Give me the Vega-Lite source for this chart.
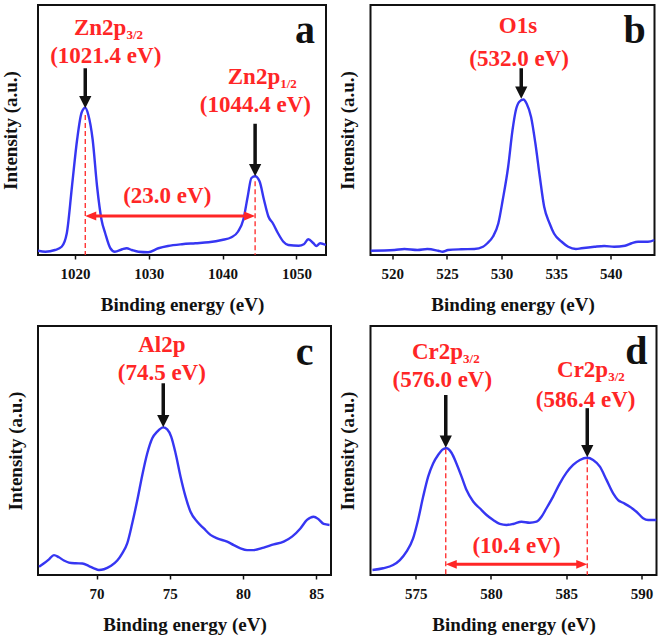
{
"$schema": "https://vega.github.io/schema/vega-lite/v6.json",
"padding": {"left": 0, "top": 4, "right": 3, "bottom": 0},
"background": "white",
"datasets": {
"curves": [
{"p":"a","E":1015.0,"I":1.7},{"p":"a","E":1016.0,"I":1.3},{"p":"a","E":1017.3,"I":2.0},{"p":"a","E":1018.2,"I":3.3},{"p":"a","E":1018.9,"I":8.7},{"p":"a","E":1019.6,"I":27.4},{"p":"a","E":1020.3,"I":46.2},{"p":"a","E":1020.9,"I":56.9},{"p":"a","E":1021.4,"I":58.9},{"p":"a","E":1021.8,"I":56.2},{"p":"a","E":1022.4,"I":46.2},{"p":"a","E":1023.0,"I":27.4},{"p":"a","E":1023.6,"I":14.1},{"p":"a","E":1024.1,"I":8.7},{"p":"a","E":1024.8,"I":2.7},{"p":"a","E":1025.4,"I":1.3},{"p":"a","E":1026.4,"I":2.3},{"p":"a","E":1027.0,"I":2.7},{"p":"a","E":1027.7,"I":2.0},{"p":"a","E":1028.6,"I":1.3},{"p":"a","E":1029.9,"I":1.1},{"p":"a","E":1031.3,"I":2.7},{"p":"a","E":1032.6,"I":3.6},{"p":"a","E":1034.5,"I":4.3},{"p":"a","E":1036.3,"I":4.7},{"p":"a","E":1038.1,"I":5.1},{"p":"a","E":1039.9,"I":6.0},{"p":"a","E":1041.2,"I":7.1},{"p":"a","E":1042.1,"I":9.4},{"p":"a","E":1042.8,"I":14.1},{"p":"a","E":1043.4,"I":23.4},{"p":"a","E":1043.9,"I":30.8},{"p":"a","E":1044.4,"I":31.5},{"p":"a","E":1045.0,"I":29.5},{"p":"a","E":1045.6,"I":22.1},{"p":"a","E":1046.2,"I":15.4},{"p":"a","E":1046.8,"I":12.7},{"p":"a","E":1047.5,"I":8.7},{"p":"a","E":1048.2,"I":5.4},{"p":"a","E":1048.9,"I":4.0},{"p":"a","E":1050.3,"I":3.7},{"p":"a","E":1051.0,"I":4.3},{"p":"a","E":1051.6,"I":6.3},{"p":"a","E":1052.3,"I":4.7},{"p":"a","E":1052.7,"I":3.6},{"p":"a","E":1053.2,"I":4.7},{"p":"a","E":1054.0,"I":4.0},
{"p":"b","E":518.0,"I":1.7},{"p":"b","E":520.2,"I":2.0},{"p":"b","E":521.1,"I":2.4},{"p":"b","E":522.3,"I":2.0},{"p":"b","E":523.2,"I":2.4},{"p":"b","E":524.2,"I":1.7},{"p":"b","E":524.6,"I":1.3},{"p":"b","E":525.1,"I":2.0},{"p":"b","E":526.3,"I":2.3},{"p":"b","E":527.5,"I":2.4},{"p":"b","E":528.3,"I":3.3},{"p":"b","E":528.7,"I":4.7},{"p":"b","E":529.2,"I":7.3},{"p":"b","E":529.7,"I":12.6},{"p":"b","E":530.1,"I":21.9},{"p":"b","E":530.6,"I":35.2},{"p":"b","E":531.0,"I":49.9},{"p":"b","E":531.3,"I":57.8},{"p":"b","E":531.6,"I":61.2},{"p":"b","E":532.0,"I":62.2},{"p":"b","E":532.3,"I":60.5},{"p":"b","E":532.7,"I":55.2},{"p":"b","E":533.1,"I":44.5},{"p":"b","E":533.5,"I":31.3},{"p":"b","E":533.9,"I":19.3},{"p":"b","E":534.4,"I":12.6},{"p":"b","E":534.8,"I":8.6},{"p":"b","E":535.5,"I":5.3},{"p":"b","E":536.1,"I":3.3},{"p":"b","E":536.8,"I":2.4},{"p":"b","E":537.3,"I":2.7},{"p":"b","E":538.5,"I":3.3},{"p":"b","E":539.4,"I":3.6},{"p":"b","E":540.3,"I":3.3},{"p":"b","E":541.3,"I":3.7},{"p":"b","E":541.9,"I":4.7},{"p":"b","E":542.5,"I":5.3},{"p":"b","E":543.4,"I":5.3},{"p":"b","E":544.0,"I":6.0},
{"p":"c","E":66.07,"I":3.3},{"p":"c","E":66.41,"I":4.7},{"p":"c","E":66.75,"I":6.3},{"p":"c","E":67.09,"I":8.0},{"p":"c","E":67.43,"I":7.1},{"p":"c","E":67.77,"I":5.8},{"p":"c","E":68.11,"I":5.0},{"p":"c","E":68.57,"I":4.7},{"p":"c","E":69.03,"I":4.6},{"p":"c","E":69.48,"I":3.6},{"p":"c","E":69.82,"I":2.7},{"p":"c","E":70.16,"I":2.0},{"p":"c","E":70.5,"I":2.3},{"p":"c","E":70.96,"I":3.6},{"p":"c","E":71.41,"I":5.8},{"p":"c","E":71.75,"I":8.7},{"p":"c","E":72.09,"I":12.7},{"p":"c","E":72.43,"I":20.7},{"p":"c","E":72.78,"I":30.1},{"p":"c","E":73.12,"I":40.2},{"p":"c","E":73.46,"I":48.9},{"p":"c","E":73.8,"I":54.9},{"p":"c","E":74.14,"I":57.6},{"p":"c","E":74.55,"I":59.3},{"p":"c","E":74.82,"I":58.5},{"p":"c","E":75.09,"I":55.6},{"p":"c","E":75.39,"I":48.9},{"p":"c","E":75.73,"I":39.5},{"p":"c","E":76.07,"I":31.5},{"p":"c","E":76.41,"I":25.4},{"p":"c","E":76.87,"I":21.4},{"p":"c","E":77.32,"I":18.7},{"p":"c","E":77.77,"I":16.1},{"p":"c","E":78.23,"I":14.7},{"p":"c","E":78.91,"I":13.4},{"p":"c","E":79.36,"I":12.0},{"p":"c","E":79.82,"I":10.7},{"p":"c","E":80.27,"I":10.0},{"p":"c","E":80.72,"I":10.0},{"p":"c","E":81.41,"I":11.0},{"p":"c","E":82.09,"I":12.3},{"p":"c","E":82.77,"I":13.4},{"p":"c","E":83.34,"I":15.4},{"p":"c","E":83.91,"I":18.7},{"p":"c","E":84.36,"I":22.1},{"p":"c","E":84.81,"I":23.4},{"p":"c","E":85.15,"I":22.4},{"p":"c","E":85.5,"I":20.5},{"p":"c","E":85.9,"I":20.1},
{"p":"d","E":572.13,"I":2.0},{"p":"d","E":572.84,"I":2.7},{"p":"d","E":573.5,"I":4.0},{"p":"d","E":573.95,"I":6.0},{"p":"d","E":574.39,"I":9.4},{"p":"d","E":574.83,"I":14.7},{"p":"d","E":575.16,"I":22.1},{"p":"d","E":575.5,"I":31.5},{"p":"d","E":575.83,"I":39.5},{"p":"d","E":576.16,"I":44.8},{"p":"d","E":576.49,"I":48.2},{"p":"d","E":576.82,"I":50.5},{"p":"d","E":577.05,"I":50.9},{"p":"d","E":577.38,"I":49.1},{"p":"d","E":577.71,"I":44.8},{"p":"d","E":578.05,"I":39.5},{"p":"d","E":578.38,"I":34.1},{"p":"d","E":578.82,"I":29.5},{"p":"d","E":579.26,"I":26.8},{"p":"d","E":579.71,"I":24.1},{"p":"d","E":580.15,"I":22.1},{"p":"d","E":580.59,"I":20.5},{"p":"d","E":581.04,"I":20.1},{"p":"d","E":581.48,"I":20.5},{"p":"d","E":582.03,"I":21.4},{"p":"d","E":582.58,"I":21.0},{"p":"d","E":583.03,"I":21.4},{"p":"d","E":583.36,"I":23.4},{"p":"d","E":583.69,"I":26.8},{"p":"d","E":584.13,"I":31.5},{"p":"d","E":584.58,"I":36.8},{"p":"d","E":585.02,"I":41.1},{"p":"d","E":585.46,"I":44.2},{"p":"d","E":585.91,"I":46.2},{"p":"d","E":586.39,"I":47.1},{"p":"d","E":586.79,"I":46.2},{"p":"d","E":587.24,"I":43.5},{"p":"d","E":587.68,"I":38.2},{"p":"d","E":588.12,"I":32.8},{"p":"d","E":588.45,"I":30.1},{"p":"d","E":588.78,"I":29.0},{"p":"d","E":589.23,"I":27.4},{"p":"d","E":589.67,"I":25.4},{"p":"d","E":590.11,"I":22.8},{"p":"d","E":590.44,"I":22.1},{"p":"d","E":591.0,"I":22.1}
],
"labels": [
{"p":"a","k":"m","E":1024.17,"I":76.7,"t":"(1021.4 eV)"},
{"p":"a","k":"m","E":1044.44,"I":57.3,"t":"(1044.4 eV)"},
{"p":"a","k":"m","E":1032.5,"I":20.9,"t":"(23.0 eV)"},
{"p":"a","k":"h","E":1026.97,"I":88,"t":"Zn2p"},
{"p":"a","k":"s","E":1026.97,"I":88,"t":"3/2"},
{"p":"a","k":"h","E":1047.8,"I":68.4,"t":"Zn2p"},
{"p":"a","k":"s","E":1047.8,"I":68.4,"t":"1/2"},
{"p":"a","k":"l","E":1052.5,"I":84.7,"t":"a"},
{"p":"b","k":"m","E":531.5,"I":88.7,"t":"O1s"},
{"p":"b","k":"m","E":531.6,"I":75.7,"t":"(532.0 eV)"},
{"p":"b","k":"l","E":543.2,"I":84.7,"t":"b"},
{"p":"c","k":"m","E":74.45,"I":89.7,"t":"Al2p"},
{"p":"c","k":"m","E":74.45,"I":78.3,"t":"(74.5 eV)"},
{"p":"c","k":"l","E":84.8,"I":84.3,"t":"c"},
{"p":"d","k":"h","E":578.15,"I":86.9,"t":"Cr2p"},
{"p":"d","k":"s","E":578.15,"I":86.9,"t":"3/2"},
{"p":"d","k":"m","E":576.77,"I":75.6,"t":"(576.0 eV)"},
{"p":"d","k":"h","E":587.79,"I":79.6,"t":"Cr2p"},
{"p":"d","k":"s","E":587.79,"I":79.6,"t":"3/2"},
{"p":"d","k":"m","E":586.29,"I":67.6,"t":"(586.4 eV)"},
{"p":"d","k":"m","E":581.7,"I":8.7,"t":"(10.4 eV)"},
{"p":"d","k":"l","E":590.4,"I":84.7,"t":"d"}
],
"arrows": [
{"p":"a","E":1021.4,"top":74.7,"tip":58.7},
{"p":"a","E":1044.4,"top":52.5,"tip":31.5},
{"p":"b","E":531.8,"top":74.7,"tip":62.5},
{"p":"c","E":74.55,"top":77,"tip":59.3},
{"p":"d","E":577.0,"top":72.3,"tip":51.1},
{"p":"d","E":586.4,"top":67,"tip":47.3}
],
"dashes": [
{"p":"a","E":1021.4,"tip":56},
{"p":"a","E":1044.4,"tip":29.5},
{"p":"d","E":577.0,"tip":50.5},
{"p":"d","E":586.4,"tip":46.5}
],
"spans": [
{"p":"a","E1":1021.4,"E2":1044.4,"I":15.6},
{"p":"d","E1":577.0,"E2":586.4,"I":4.3}
]
},
"spacing": {"row": 10, "column": 5.5},
"align": "none",
"columns": 2,
"concat": [
{"width": 288, "height": 250, "layer": [
{"data":{"name":"curves"},"transform":[{"filter":"datum.p==='a'"}],"mark":{"type":"line","color":"#3636f2","strokeWidth":2.4,"interpolate":"monotone","clip":true},
 "encoding":{"x":{"field":"E","type":"quantitative","title":"Binding energy (eV)","scale":{"domain":[1015,1054],"nice":false,"zero":false},"axis":{"values":[1020,1030,1040,1050],"format":"d"}},
 "y":{"field":"I","type":"quantitative","title":"Intensity (a.u.)","scale":{"domain":[0,100],"nice":false,"zero":false},"axis":{"titlePadding":18}}}},
{"data":{"name":"dashes"},"transform":[{"filter":"datum.p==='a'"}],"mark":{"type":"rule","color":"#ff2626","strokeWidth":1.3,"strokeDash":[5,3]},
 "encoding":{"x":{"field":"E","type":"quantitative","title":"Binding energy (eV)"},"y":{"field":"tip","type":"quantitative","title":"Intensity (a.u.)","axis":{"titlePadding":18}},"y2":{"datum":0}}},
{"data":{"name":"spans"},"transform":[{"filter":"datum.p==='a'"}],"mark":{"type":"rule","color":"#ff2626","strokeWidth":3,"xOffset":9,"x2Offset":-9},
 "encoding":{"x":{"field":"E1","type":"quantitative","title":"Binding energy (eV)"},"x2":{"field":"E2","title":"Binding energy (eV)"},"y":{"field":"I","type":"quantitative","title":"Intensity (a.u.)","axis":{"titlePadding":18}}}},
{"data":{"name":"spans"},"transform":[{"filter":"datum.p==='a'"}],"mark":{"type":"point","shape":"M0,0L2,-0.8L2,0.8Z","size":121,"filled":true,"color":"#ff2626","opacity":1,"strokeWidth":0},
 "encoding":{"x":{"field":"E1","type":"quantitative","title":"Binding energy (eV)"},"y":{"field":"I","type":"quantitative","title":"Intensity (a.u.)","axis":{"titlePadding":18}}}},
{"data":{"name":"spans"},"transform":[{"filter":"datum.p==='a'"}],"mark":{"type":"point","shape":"M0,0L-2,-0.8L-2,0.8Z","size":121,"filled":true,"color":"#ff2626","opacity":1,"strokeWidth":0},
 "encoding":{"x":{"field":"E2","type":"quantitative","title":"Binding energy (eV)"},"y":{"field":"I","type":"quantitative","title":"Intensity (a.u.)","axis":{"titlePadding":18}}}},
{"data":{"name":"arrows"},"transform":[{"filter":"datum.p==='a'"}],"mark":{"type":"rule","color":"#111111","strokeWidth":3.5,"y2Offset":-10},
 "encoding":{"x":{"field":"E","type":"quantitative","title":"Binding energy (eV)"},"y":{"field":"top","type":"quantitative","title":"Intensity (a.u.)","axis":{"titlePadding":18}},"y2":{"field":"tip","title":"Intensity (a.u.)"}}},
{"data":{"name":"arrows"},"transform":[{"filter":"datum.p==='a'"}],"mark":{"type":"point","shape":"M-1,-2L1,-2L0,0Z","size":150,"filled":true,"color":"#111111","opacity":1,"strokeWidth":0},
 "encoding":{"x":{"field":"E","type":"quantitative","title":"Binding energy (eV)"},"y":{"field":"tip","type":"quantitative","title":"Intensity (a.u.)","axis":{"titlePadding":18}}}},
{"data":{"name":"labels"},"transform":[{"filter":"datum.p==='a' && datum.k==='m'"}],"mark":{"type":"text","color":"#ff2626","fontSize":23,"align":"center","baseline":"alphabetic"},
 "encoding":{"x":{"field":"E","type":"quantitative","title":"Binding energy (eV)"},"y":{"field":"I","type":"quantitative","title":"Intensity (a.u.)","axis":{"titlePadding":18}},"text":{"field":"t"}}},
{"data":{"name":"labels"},"transform":[{"filter":"datum.p==='a' && datum.k==='h'"}],"mark":{"type":"text","color":"#ff2626","fontSize":23,"align":"right","baseline":"alphabetic"},
 "encoding":{"x":{"field":"E","type":"quantitative","title":"Binding energy (eV)"},"y":{"field":"I","type":"quantitative","title":"Intensity (a.u.)","axis":{"titlePadding":18}},"text":{"field":"t"}}},
{"data":{"name":"labels"},"transform":[{"filter":"datum.p==='a' && datum.k==='s'"}],"mark":{"type":"text","color":"#ff2626","fontSize":13,"align":"left","baseline":"alphabetic","dy":4},
 "encoding":{"x":{"field":"E","type":"quantitative","title":"Binding energy (eV)"},"y":{"field":"I","type":"quantitative","title":"Intensity (a.u.)","axis":{"titlePadding":18}},"text":{"field":"t"}}},
{"data":{"name":"labels"},"transform":[{"filter":"datum.p==='a' && datum.k==='l'"}],"mark":{"type":"text","color":"#111111","fontSize":40,"align":"right","baseline":"alphabetic"},
 "encoding":{"x":{"field":"E","type":"quantitative","title":"Binding energy (eV)"},"y":{"field":"I","type":"quantitative","title":"Intensity (a.u.)","axis":{"titlePadding":18}},"text":{"field":"t"}}}
]},
{"width": 284, "height": 250, "layer": [
{"data":{"name":"curves"},"transform":[{"filter":"datum.p==='b'"}],"mark":{"type":"line","color":"#3636f2","strokeWidth":2.4,"interpolate":"monotone","clip":true},
 "encoding":{"x":{"field":"E","type":"quantitative","title":"Binding energy (eV)","scale":{"domain":[518,544],"nice":false,"zero":false},"axis":{"values":[520,525,530,535,540],"format":"d"}},
 "y":{"field":"I","type":"quantitative","title":"Intensity (a.u.)","scale":{"domain":[0,100],"nice":false,"zero":false}}}},
{"data":{"name":"arrows"},"transform":[{"filter":"datum.p==='b'"}],"mark":{"type":"rule","color":"#111111","strokeWidth":3.5,"y2Offset":-10},
 "encoding":{"x":{"field":"E","type":"quantitative","title":"Binding energy (eV)"},"y":{"field":"top","type":"quantitative","title":"Intensity (a.u.)"},"y2":{"field":"tip","title":"Intensity (a.u.)"}}},
{"data":{"name":"arrows"},"transform":[{"filter":"datum.p==='b'"}],"mark":{"type":"point","shape":"M-1,-2L1,-2L0,0Z","size":150,"filled":true,"color":"#111111","opacity":1,"strokeWidth":0},
 "encoding":{"x":{"field":"E","type":"quantitative","title":"Binding energy (eV)"},"y":{"field":"tip","type":"quantitative","title":"Intensity (a.u.)"}}},
{"data":{"name":"labels"},"transform":[{"filter":"datum.p==='b' && datum.k==='m'"}],"mark":{"type":"text","color":"#ff2626","fontSize":23,"align":"center","baseline":"alphabetic"},
 "encoding":{"x":{"field":"E","type":"quantitative","title":"Binding energy (eV)"},"y":{"field":"I","type":"quantitative","title":"Intensity (a.u.)"},"text":{"field":"t"}}},
{"data":{"name":"labels"},"transform":[{"filter":"datum.p==='b' && datum.k==='l'"}],"mark":{"type":"text","color":"#111111","fontSize":40,"align":"right","baseline":"alphabetic"},
 "encoding":{"x":{"field":"E","type":"quantitative","title":"Binding energy (eV)"},"y":{"field":"I","type":"quantitative","title":"Intensity (a.u.)"},"text":{"field":"t"}}}
]},
{"width": 293, "height": 249, "layer": [
{"data":{"name":"curves"},"transform":[{"filter":"datum.p==='c'"}],"mark":{"type":"line","color":"#3636f2","strokeWidth":2.4,"interpolate":"monotone","clip":true},
 "encoding":{"x":{"field":"E","type":"quantitative","title":"Binding energy (eV)","scale":{"domain":[66,86],"nice":false,"zero":false},"axis":{"values":[70,75,80,85],"format":"d"}},
 "y":{"field":"I","type":"quantitative","title":"Intensity (a.u.)","scale":{"domain":[0,100],"nice":false,"zero":false}}}},
{"data":{"name":"arrows"},"transform":[{"filter":"datum.p==='c'"}],"mark":{"type":"rule","color":"#111111","strokeWidth":3.5,"y2Offset":-10},
 "encoding":{"x":{"field":"E","type":"quantitative","title":"Binding energy (eV)"},"y":{"field":"top","type":"quantitative","title":"Intensity (a.u.)"},"y2":{"field":"tip","title":"Intensity (a.u.)"}}},
{"data":{"name":"arrows"},"transform":[{"filter":"datum.p==='c'"}],"mark":{"type":"point","shape":"M-1,-2L1,-2L0,0Z","size":150,"filled":true,"color":"#111111","opacity":1,"strokeWidth":0},
 "encoding":{"x":{"field":"E","type":"quantitative","title":"Binding energy (eV)"},"y":{"field":"tip","type":"quantitative","title":"Intensity (a.u.)"}}},
{"data":{"name":"labels"},"transform":[{"filter":"datum.p==='c' && datum.k==='m'"}],"mark":{"type":"text","color":"#ff2626","fontSize":23,"align":"center","baseline":"alphabetic"},
 "encoding":{"x":{"field":"E","type":"quantitative","title":"Binding energy (eV)"},"y":{"field":"I","type":"quantitative","title":"Intensity (a.u.)"},"text":{"field":"t"}}},
{"data":{"name":"labels"},"transform":[{"filter":"datum.p==='c' && datum.k==='l'"}],"mark":{"type":"text","color":"#111111","fontSize":40,"align":"right","baseline":"alphabetic"},
 "encoding":{"x":{"field":"E","type":"quantitative","title":"Binding energy (eV)"},"y":{"field":"I","type":"quantitative","title":"Intensity (a.u.)"},"text":{"field":"t"}}}
]},
{"width": 286, "height": 249, "layer": [
{"data":{"name":"curves"},"transform":[{"filter":"datum.p==='d'"}],"mark":{"type":"line","color":"#3636f2","strokeWidth":2.4,"interpolate":"monotone","clip":true},
 "encoding":{"x":{"field":"E","type":"quantitative","title":"Binding energy (eV)","scale":{"domain":[572,591],"nice":false,"zero":false},"axis":{"values":[575,580,585,590],"format":"d"}},
 "y":{"field":"I","type":"quantitative","title":"Intensity (a.u.)","scale":{"domain":[0,100],"nice":false,"zero":false}}}},
{"data":{"name":"dashes"},"transform":[{"filter":"datum.p==='d'"}],"mark":{"type":"rule","color":"#ff2626","strokeWidth":1.3,"strokeDash":[5,3]},
 "encoding":{"x":{"field":"E","type":"quantitative","title":"Binding energy (eV)"},"y":{"field":"tip","type":"quantitative","title":"Intensity (a.u.)"},"y2":{"datum":0}}},
{"data":{"name":"spans"},"transform":[{"filter":"datum.p==='d'"}],"mark":{"type":"rule","color":"#ff2626","strokeWidth":3,"xOffset":9,"x2Offset":-9},
 "encoding":{"x":{"field":"E1","type":"quantitative","title":"Binding energy (eV)"},"x2":{"field":"E2","title":"Binding energy (eV)"},"y":{"field":"I","type":"quantitative","title":"Intensity (a.u.)"}}},
{"data":{"name":"spans"},"transform":[{"filter":"datum.p==='d'"}],"mark":{"type":"point","shape":"M0,0L2,-0.8L2,0.8Z","size":121,"filled":true,"color":"#ff2626","opacity":1,"strokeWidth":0},
 "encoding":{"x":{"field":"E1","type":"quantitative","title":"Binding energy (eV)"},"y":{"field":"I","type":"quantitative","title":"Intensity (a.u.)"}}},
{"data":{"name":"spans"},"transform":[{"filter":"datum.p==='d'"}],"mark":{"type":"point","shape":"M0,0L-2,-0.8L-2,0.8Z","size":121,"filled":true,"color":"#ff2626","opacity":1,"strokeWidth":0},
 "encoding":{"x":{"field":"E2","type":"quantitative","title":"Binding energy (eV)"},"y":{"field":"I","type":"quantitative","title":"Intensity (a.u.)"}}},
{"data":{"name":"arrows"},"transform":[{"filter":"datum.p==='d'"}],"mark":{"type":"rule","color":"#111111","strokeWidth":3.5,"y2Offset":-10},
 "encoding":{"x":{"field":"E","type":"quantitative","title":"Binding energy (eV)"},"y":{"field":"top","type":"quantitative","title":"Intensity (a.u.)"},"y2":{"field":"tip","title":"Intensity (a.u.)"}}},
{"data":{"name":"arrows"},"transform":[{"filter":"datum.p==='d'"}],"mark":{"type":"point","shape":"M-1,-2L1,-2L0,0Z","size":150,"filled":true,"color":"#111111","opacity":1,"strokeWidth":0},
 "encoding":{"x":{"field":"E","type":"quantitative","title":"Binding energy (eV)"},"y":{"field":"tip","type":"quantitative","title":"Intensity (a.u.)"}}},
{"data":{"name":"labels"},"transform":[{"filter":"datum.p==='d' && datum.k==='m'"}],"mark":{"type":"text","color":"#ff2626","fontSize":23,"align":"center","baseline":"alphabetic"},
 "encoding":{"x":{"field":"E","type":"quantitative","title":"Binding energy (eV)"},"y":{"field":"I","type":"quantitative","title":"Intensity (a.u.)"},"text":{"field":"t"}}},
{"data":{"name":"labels"},"transform":[{"filter":"datum.p==='d' && datum.k==='h'"}],"mark":{"type":"text","color":"#ff2626","fontSize":23,"align":"right","baseline":"alphabetic"},
 "encoding":{"x":{"field":"E","type":"quantitative","title":"Binding energy (eV)"},"y":{"field":"I","type":"quantitative","title":"Intensity (a.u.)"},"text":{"field":"t"}}},
{"data":{"name":"labels"},"transform":[{"filter":"datum.p==='d' && datum.k==='s'"}],"mark":{"type":"text","color":"#ff2626","fontSize":13,"align":"left","baseline":"alphabetic","dy":4},
 "encoding":{"x":{"field":"E","type":"quantitative","title":"Binding energy (eV)"},"y":{"field":"I","type":"quantitative","title":"Intensity (a.u.)"},"text":{"field":"t"}}},
{"data":{"name":"labels"},"transform":[{"filter":"datum.p==='d' && datum.k==='l'"}],"mark":{"type":"text","color":"#111111","fontSize":40,"align":"right","baseline":"alphabetic"},
 "encoding":{"x":{"field":"E","type":"quantitative","title":"Binding energy (eV)"},"y":{"field":"I","type":"quantitative","title":"Intensity (a.u.)"},"text":{"field":"t"}}}
]}
],
"config": {
"view": {"stroke": "#111111", "strokeWidth": 2, "fill": "white"},
"axis": {"grid": false, "domain": false, "labelFont": "Liberation Serif", "labelFontWeight": "bold", "labelFontSize": 15, "labelColor": "#111111", "titleFont": "Liberation Serif", "titleFontWeight": "bold", "titleFontSize": 19, "titleColor": "#111111", "tickColor": "#111111", "tickSize": 4, "tickWidth": 1.5},
"axisX": {"labelPadding": 7, "titlePadding": 14, "labelFlush": false, "labelOverlap": false},
"axisY": {"labels": false, "ticks": false, "titlePadding": 13},
"text": {"font": "Liberation Serif", "fontWeight": "bold"}
}
}
